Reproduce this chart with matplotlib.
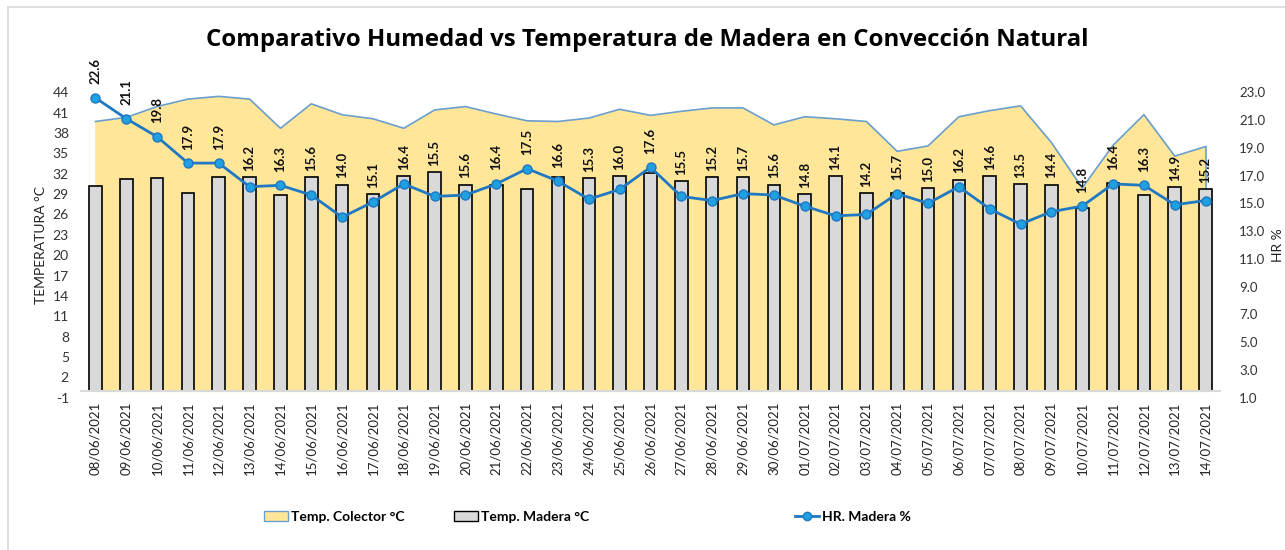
import matplotlib.pyplot as plt
import numpy as np
from matplotlib.lines import Line2D
from matplotlib.patches import Patch

# %% data
dates = ["08/06/2021", "09/06/2021", "10/06/2021", "11/06/2021", "12/06/2021",
         "13/06/2021", "14/06/2021", "15/06/2021", "16/06/2021", "17/06/2021",
         "18/06/2021", "19/06/2021", "20/06/2021", "21/06/2021", "22/06/2021",
         "23/06/2021", "24/06/2021", "25/06/2021", "26/06/2021", "27/06/2021",
         "28/06/2021", "29/06/2021", "30/06/2021", "01/07/2021", "02/07/2021",
         "03/07/2021", "04/07/2021", "05/07/2021", "06/07/2021", "07/07/2021",
         "08/07/2021", "09/07/2021", "10/07/2021", "11/07/2021", "12/07/2021",
         "13/07/2021", "14/07/2021"]

temp_colector = [39.7, 40.3, 41.9, 43.0, 43.4, 43.0, 38.7, 42.3, 40.7, 40.1,
                 38.7, 41.4, 41.9, 40.8, 39.8, 39.7, 40.2, 41.5, 40.6, 41.2,
                 41.7, 41.7, 39.2, 40.4, 40.1, 39.7, 35.3, 36.1, 40.4, 41.3,
                 42.0, 36.6, 29.9, 36.2, 40.7, 34.6, 36.0]

temp_madera = [30.2, 31.2, 31.4, 29.2, 31.5, 31.5, 28.9, 31.5, 30.4, 29.0,
               31.6, 32.2, 30.4, 30.4, 29.8, 31.5, 31.3, 31.6, 32.1, 30.9,
               31.5, 31.5, 30.4, 29.0, 31.6, 29.2, 29.2, 29.9, 31.1, 31.6,
               30.5, 30.4, 26.9, 30.6, 28.8, 30.0, 29.7]

hr_madera = [22.6, 21.1, 19.8, 17.9, 17.9, 16.2, 16.3, 15.6, 14.0, 15.1,
             16.4, 15.5, 15.6, 16.4, 17.5, 16.6, 15.3, 16.0, 17.6, 15.5,
             15.2, 15.7, 15.6, 14.8, 14.1, 14.2, 15.7, 15.0, 16.2, 14.6,
             13.5, 14.4, 14.8, 16.4, 16.3, 14.9, 15.2]

left_ticks = np.arange(-1, 45, 3)
right_ticks = np.arange(1, 24, 2)

# %% plot
plt.rcParams['font.family'] = ['Lato', 'DejaVu Sans']
plt.rcParams['axes.unicode_minus'] = False
fig = plt.figure(figsize=(12.85, 5.5), dpi=100)
ax = fig.add_axes([80 / 1285, 152.3 / 550, 1141 / 1285, 305.4 / 550])
ax2 = ax.twinx()

x = np.arange(len(dates))

# area, bars
ax.fill_between(x, 0, temp_colector, color='#FFE699', zorder=1)
ax.plot(x, temp_colector, color='#6A9FCF', lw=1.2, zorder=2)
ax.plot([x[-1], x[-1]], [0, temp_colector[-1]], color='#6A9FCF', lw=1.2, zorder=2)
ax.bar(x, temp_madera, width=0.41, color='#D9D9D9', edgecolor='black',
       linewidth=1.2, zorder=3)
ax.axhline(0, color='#D9D9D9', lw=1.5, zorder=4)

ax.set_xlim(-0.5, len(dates) - 0.5)
ax.set_ylim(-1, 44)
ax.set_yticks(left_ticks)
ax.set_xticks(x)
ax.set_xticklabels(dates, rotation=90, fontsize=9.5, color='#222222')
ax.tick_params(axis='x', length=0, pad=3)
ax.tick_params(axis='y', length=0, pad=8, labelsize=10, labelcolor='#333333')
ax.set_ylabel("TEMPERATURA °C", fontsize=10, color='#222222', labelpad=4)

# humidity line on right axis
ax2.plot(x, hr_madera, color='#1F78C1', lw=2, marker='o', markersize=6.5,
         markerfacecolor='#1FA0E0', markeredgecolor='#1F78C1', zorder=5)
ax2.set_ylim(1, 23)
ax2.set_yticks(right_ticks)
ax2.set_yticklabels([f"{t:.1f}" for t in right_ticks])
ax2.tick_params(axis='y', length=0, pad=13, labelsize=9.5, labelcolor='#333333')
ax2.set_ylabel("HR %", fontsize=10, color='#222222')
ax2.yaxis.set_label_coords(1.045, 0.5)

for a in (ax, ax2):
    for s in a.spines.values():
        s.set_visible(False)

# data labels above point or bar
for i, hr in enumerate(hr_madera):
    y_pt = -1 + (hr - 1) * 45 / 22
    y_lab = max(y_pt + 2.0, temp_madera[i] + 0.9)
    y_lab2 = 1 + (y_lab + 1) * 22 / 45
    ax2.text(i, y_lab2, f"{hr:.1f}", rotation=90, ha='center', va='bottom',
             fontsize=9.5, fontweight='bold', color='#111111', zorder=6)

fig.suptitle("Comparativo Humedad vs Temperatura de Madera en Convección Natural",
             x=647 / 1285, y=1 - 40 / 550, va='center', fontsize=17.3,
             fontweight='bold', family=['Open Sans', 'DejaVu Sans'])

# legends placed like the original
entries = [
    (Patch(facecolor='#FFE699', edgecolor='#6A9FCF'), "Temp. Colector °C", 262),
    (Patch(facecolor='#D9D9D9', edgecolor='black'), "Temp. Madera °C", 452),
    (Line2D([], [], color='#1F78C1', lw=2, marker='o', markersize=6,
            markerfacecolor='#1FA0E0', markeredgecolor='#1F78C1'), "HR. Madera %", 793),
]
for h, lab, px in entries:
    fig.legend([h], [lab], loc='center left', bbox_to_anchor=(px / 1285 - 0.008, 1 - 517 / 550),
               frameon=False, prop={'weight': 'bold', 'size': 10}, handlelength=1.7,
               handletextpad=0.25)

# chart border (top and left visible)
fig.add_artist(Line2D([8 / 1285, 1], [1 - 7 / 550] * 2, color='#D9D9D9', lw=1.2))
fig.add_artist(Line2D([8 / 1285] * 2, [0, 1 - 7 / 550], color='#D9D9D9', lw=1.2))

fig.savefig("out.png", dpi=100)
